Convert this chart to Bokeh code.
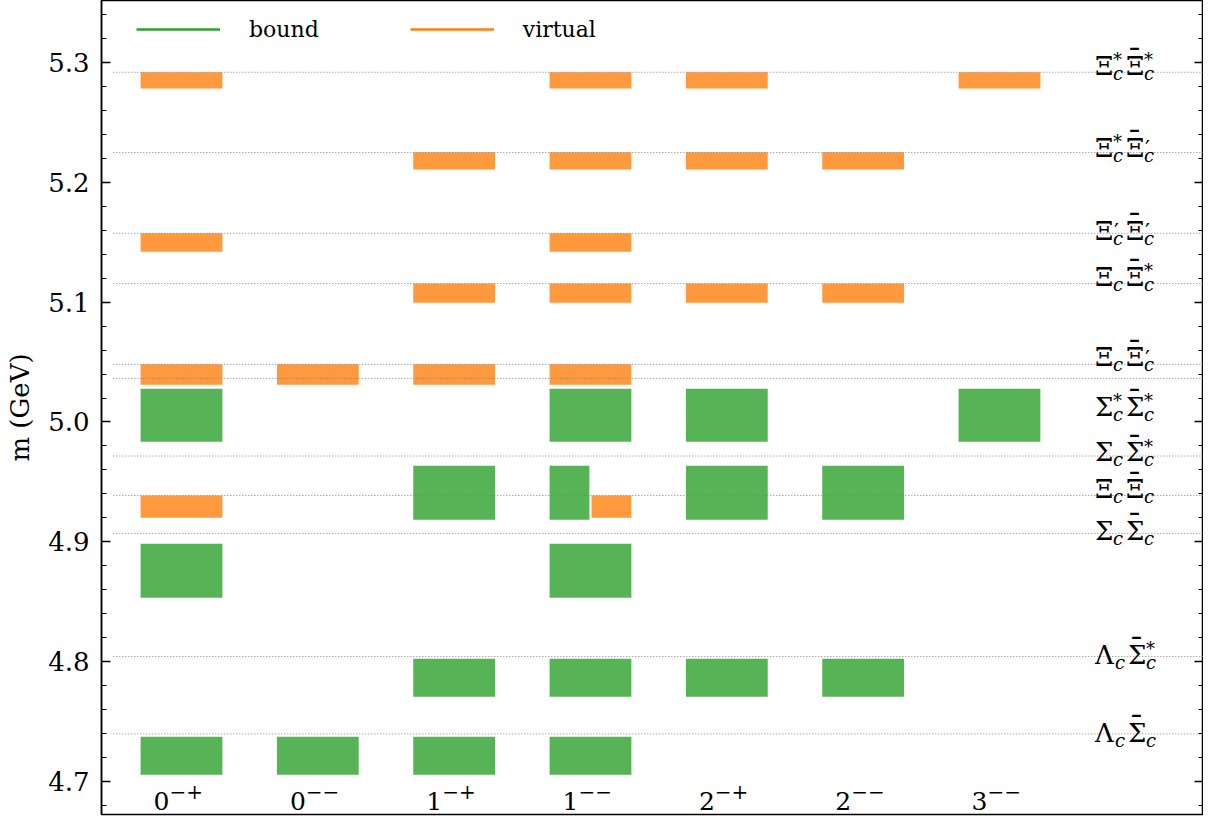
from bokeh.plotting import figure
from bokeh.models import (ColumnDataSource, Range1d, LinearAxis, SingleIntervalTicker,
                          NumeralTickFormatter, Legend, LegendItem, LabelSet)
from bokeh.embed import file_html
from bokeh.resources import INLINE
from bokeh.core.properties import value

# ---------------- data ----------------
jpc = ["0-+", "0--", "1-+", "1--", "2-+", "2--", "3--"]
jpc_base = ["0", "0", "1", "1", "2", "2", "3"]
jpc_sup = ["\u2212+", "\u2212\u2212", "\u2212+", "\u2212\u2212", "\u2212+", "\u2212\u2212", "\u2212\u2212"]

# thresholds (GeV) and their labels
thr_values = [5.2919, 5.2249, 5.1575, 5.1155, 5.0481, 5.0364, 4.9716, 4.9387, 4.9070, 4.8043, 4.7397]
thr_base1 = ["Ξ", "Ξ", "Ξ", "Ξ", "Ξ", "Σ", "Σ", "Ξ", "Σ", "Λ", "Λ"]
thr_sup1 = ["*", "*", "\u2032", "", "", "*", "", "", "", "", ""]
thr_base2 = ["Ξ", "Ξ", "Ξ", "Ξ", "Ξ", "Σ", "Σ", "Ξ", "Σ", "Σ", "Σ"]
thr_sup2 = ["*", "\u2032", "\u2032", "*", "\u2032", "*", "*", "", "", "*", ""]

# states: J^PC, kind, lower / upper mass (GeV), slot
state_jpc = ["0-+", "0-+", "0-+", "0-+", "0-+", "0-+", "0-+",
             "0--", "0--",
             "1-+", "1-+", "1-+", "1-+", "1-+", "1-+",
             "1--", "1--", "1--", "1--", "1--", "1--", "1--", "1--", "1--", "1--", "1--",
             "2-+", "2-+", "2-+", "2-+", "2-+", "2-+",
             "2--", "2--", "2--", "2--",
             "3--", "3--"]
state_kind = ["virtual", "virtual", "virtual", "bound", "virtual", "bound", "bound",
              "virtual", "bound",
              "virtual", "virtual", "virtual", "bound", "bound", "bound",
              "virtual", "virtual", "virtual", "virtual", "virtual", "bound", "bound", "virtual", "bound", "bound", "bound",
              "virtual", "virtual", "virtual", "bound", "bound", "bound",
              "virtual", "virtual", "bound", "bound",
              "virtual", "bound"]
state_lo = [5.2783, 5.1422, 5.0311, 4.9835, 4.9201, 4.8533, 4.7055,
            5.0311, 4.7055,
            5.2107, 5.0996, 5.0311, 4.9184, 4.7706, 4.7055,
            5.2783, 5.2107, 5.1422, 5.0996, 5.0311, 4.9835, 4.9184, 4.9201, 4.8533, 4.7706, 4.7055,
            5.2783, 5.2107, 5.0996, 4.9835, 4.9184, 4.7706,
            5.2107, 5.0996, 4.9184, 4.7706,
            5.2783, 4.9835]
state_hi = [5.2919, 5.1575, 5.0481, 5.0278, 4.9387, 4.8984, 4.7372,
            5.0481, 4.7372,
            5.2251, 5.1155, 5.0481, 4.9635, 4.8023, 4.7372,
            5.2919, 5.2251, 5.1575, 5.1155, 5.0481, 5.0278, 4.9635, 4.9387, 4.8984, 4.8023, 4.7372,
            5.2919, 5.2251, 5.1155, 5.0278, 4.9635, 4.8023,
            5.2251, 5.1155, 4.9635, 4.8023,
            5.2919, 5.0278]
state_slot = (["full"] * 15 + ["full"] * 6 + ["left", "right"] + ["full"] * 3 + ["full"] * 12)

# ---------------- styling ----------------
GREEN = "#2ca02c"
ORANGE = "#ff7f0e"
SERIF = "DejaVu Serif"
HALF = 0.3
GAP = 0.008

p = figure(frame_width=1102, frame_height=814,
           x_range=Range1d(-0.5868, 7.4965), y_range=Range1d(4.6724, 5.3518),
           x_axis_type=None, output_backend="svg", toolbar_location=None,
           min_border_left=101, min_border_right=0, min_border_top=0, min_border_bottom=2)
p.outline_line_color = "black"
p.outline_line_width = 1.5
p.ygrid.visible = False
p.background_fill_color = "white"
p.border_fill_color = "white"

ticker = SingleIntervalTicker(interval=0.1, num_minor_ticks=5)
yax = p.yaxis[0]
yax.ticker = ticker
yax.formatter = NumeralTickFormatter(format="0.0")
yax.major_tick_in = 9
yax.major_tick_out = 0
yax.minor_tick_in = 5
yax.minor_tick_out = 0
yax.major_tick_line_width = 1.5
yax.minor_tick_line_width = 1.2
yax.axis_line_width = 1.5
yax.major_label_text_font = SERIF
yax.major_label_text_font_size = "26px"
yax.major_label_text_color = "black"
yax.major_label_standoff = 12
yax.axis_label = "m (GeV)"
yax.axis_label_text_font = SERIF
yax.axis_label_text_font_size = "26px"
yax.axis_label_text_font_style = "normal"
yax.axis_label_text_color = "black"
yax.axis_label_standoff = 10

rax = LinearAxis(ticker=ticker, major_tick_in=9, major_tick_out=0, minor_tick_in=5, minor_tick_out=0,
                 major_tick_line_width=1.5, minor_tick_line_width=1.2, axis_line_width=1.5,
                 major_label_text_color=None, major_label_text_font_size="1px",
                 major_label_standoff=0)
p.add_layout(rax, "right")

# bars
for kind, color in (("bound", GREEN), ("virtual", ORANGE)):
    left, right, bottom, top = [], [], [], []
    for j, k, lo, hi, s in zip(state_jpc, state_kind, state_lo, state_hi, state_slot):
        if k != kind:
            continue
        c = jpc.index(j)
        if s == "full":
            l, r = c - HALF, c + HALF
        elif s == "left":
            l, r = c - HALF, c - GAP
        else:
            l, r = c + GAP, c + HALF
        left.append(l); right.append(r); bottom.append(lo); top.append(hi)
    p.quad(left=left, right=right, bottom=bottom, top=top,
           fill_color=color, fill_alpha=0.8, line_color=None)

# threshold lines
p.segment(x0=-0.5, x1=7.5, y0=thr_values, y1=thr_values,
          line_color="#808080", line_width=1, line_dash="1 2")

# threshold labels (built from base letters, sub- and superscripts)
label_dy = [-6.5, -5, -2.3, -7, -7, 28.5, -3.6, -6, -2.7, -1.7, -1]
w1 = {"Ξ": 18, "Σ": 18, "Λ": 20}
LX = 6.7
BASE_FS = "26px"


def add_text(rows, font_size, style="normal"):
    rows = [r for r in rows if r[2]]
    if not rows:
        return
    src = ColumnDataSource(dict(x=[LX] * len(rows), y=[r[0] for r in rows], text=[r[2] for r in rows],
                                xo=[r[1] for r in rows], yo=[r[3] for r in rows]))
    p.text(x="x", y="y", text="text", x_offset="xo", y_offset="yo", source=src,
           text_font=value(SERIF), text_font_size=font_size, text_font_style=style,
           text_align="left", text_baseline="alphabetic", text_color="black")


base_rows, bar_rows, sub_rows, star_rows, prime_rows = [], [], [], [], []
for v, b1, s1, b2, s2, dy in zip(thr_values, thr_base1, thr_sup1, thr_base2, thr_sup2, label_dy):
    o1 = w1[b1]
    o2 = o1 + 13
    o3 = o2 + 18
    base_rows.append((v, 0, b1, dy))
    base_rows.append((v, o2, b2, dy))
    bar_rows.append((v, o2 + 1, "\u00af", dy - 6))
    sub_rows.append((v, o1, "c", dy + 7.5))
    sub_rows.append((v, o3, "c", dy + 7.5))
    for off, s in ((o1, s1), (o3, s2)):
        if s == "*":
            star_rows.append((v, off, s, dy - 6))
        elif s:
            prime_rows.append((v, off + 1, s, dy + 1))

add_text(base_rows, BASE_FS)
add_text(bar_rows, "30px")
add_text(sub_rows, "18px", "italic")
add_text(star_rows, "18px")
add_text(prime_rows, "22px")

# J^PC labels inside the frame
jsrc = ColumnDataSource(dict(x=list(range(len(jpc))), y=[4.6762] * len(jpc), base=jpc_base, sup=jpc_sup))
p.add_layout(LabelSet(x="x", y="y", text="base", source=jsrc, x_offset=-12,
                      text_font=value(SERIF), text_font_size="25px", text_align="right",
                      text_baseline="alphabetic", text_color="black"))
p.add_layout(LabelSet(x="x", y="y", text="sup", source=jsrc, x_offset=-12, y_offset=11,
                      text_font=value(SERIF), text_font_size="20px", text_align="left",
                      text_baseline="alphabetic", text_color="black"))

# legend
nan = float("nan")
rb = p.line(x=[nan, nan], y=[nan, nan], line_color=GREEN, line_width=2.5)
rv = p.line(x=[nan, nan], y=[nan, nan], line_color=ORANGE, line_width=2.5)
legend = Legend(items=[LegendItem(label="bound", renderers=[rb]),
                       LegendItem(label="virtual", renderers=[rv])],
                orientation="horizontal", location=(35, 772),
                glyph_width=84, glyph_height=26, label_height=26, label_standoff=29,
                spacing=91, padding=0, margin=0, border_line_color=None,
                background_fill_alpha=0, label_text_font=SERIF, label_text_font_size="22px",
                label_text_color="black")
p.add_layout(legend, "center")

open("out.html", "w").write(file_html(p, INLINE))
